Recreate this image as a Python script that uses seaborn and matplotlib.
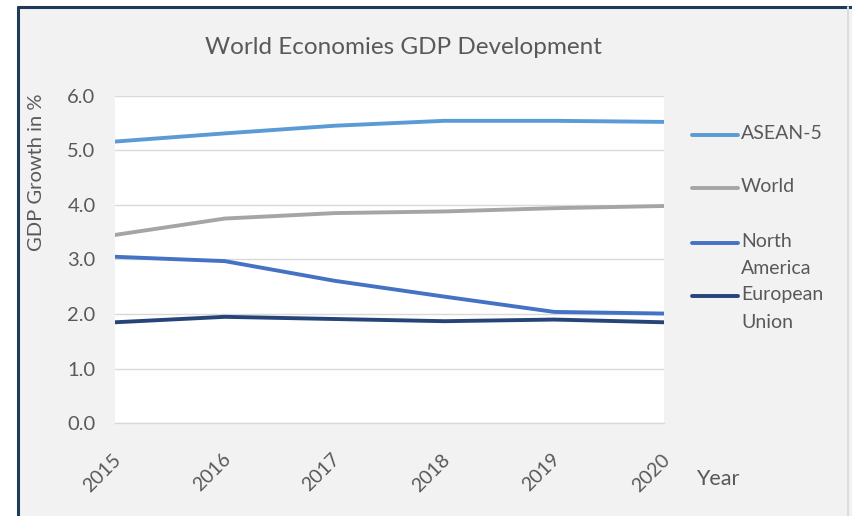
import matplotlib
matplotlib.use("Agg")
import matplotlib.pyplot as plt
from matplotlib.lines import Line2D
from matplotlib.patches import Rectangle
from matplotlib.transforms import ScaledTranslation
import seaborn as sns
import pandas as pd

years = [2015, 2016, 2017, 2018, 2019, 2020]
asean5 = [5.16, 5.31, 5.45, 5.54, 5.54, 5.52]
world = [3.45, 3.75, 3.85, 3.88, 3.94, 3.98]
north_america = [3.05, 2.97, 2.61, 2.32, 2.04, 2.01]
european_union = [1.85, 1.95, 1.91, 1.87, 1.90, 1.85]
series_names = ["ASEAN-5", "World", "North America", "European Union"]
legend_labels = ["ASEAN-5", "World", "North\nAmerica", "European\nUnion"]
colors = ["#5B9BD5", "#A5A5A5", "#4472C4", "#264478"]
yticks = [0.0, 1.0, 2.0, 3.0, 4.0, 5.0, 6.0]

df = pd.DataFrame({
    "Year": years * 4,
    "GDP": asean5 + world + north_america + european_union,
    "Series": sum([[n] * len(years) for n in series_names], []),
})

sns.set_style("white")
plt.rcParams["font.family"] = ["Lato", "DejaVu Sans"]

W, H = 852, 516
fig = plt.figure(figsize=(W / 100, H / 100), dpi=100, facecolor="white")

# chart area background and border (Excel-like)
fig.add_artist(Rectangle((17 / W, 0), 1 - 17 / W, 1 - 7 / H, transform=fig.transFigure,
                         facecolor="#F2F2F2", edgecolor="none", zorder=-10))
fig.add_artist(Line2D([18 / W, 18 / W], [0, 1 - 7 / H], transform=fig.transFigure,
                      color="#1F3B5A", lw=2.2))
fig.add_artist(Line2D([18 / W, 1], [1 - 7 / H, 1 - 7 / H], transform=fig.transFigure,
                      color="#1F3B5A", lw=2.2))
fig.add_artist(Line2D([1 - 4 / W, 1 - 4 / W], [0, 1 - 7 / H], transform=fig.transFigure,
                      color="#DCDCDC", lw=1.5))

left, right, top, bottom = 115, 664, 95.7, 423.3
ax = fig.add_axes([left / W, 1 - bottom / H, (right - left) / W, (bottom - top) / H])
ax.set_facecolor("white")

sns.lineplot(data=df, x="Year", y="GDP", hue="Series", hue_order=series_names,
             palette=colors, linewidth=2.8, ax=ax, legend=False)

ax.set_xlim(2015, 2020)
ax.set_ylim(0, 6)
ax.set_yticks(yticks)
ax.set_yticklabels([f"{v:.1f}" for v in yticks])
ax.set_xticks(years)
ax.set_xticklabels([str(y) for y in years])
ax.grid(axis="y", color="#D9D9D9", linewidth=1)
ax.set_axisbelow(True)
for s in ["top", "right", "left"]:
    ax.spines[s].set_visible(False)
ax.spines["bottom"].set_color("#D9D9D9")
ax.spines["bottom"].set_linewidth(1)
ax.tick_params(axis="y", length=0, pad=14, labelsize=14.5, labelcolor="#595959")
ax.tick_params(axis="x", length=0, pad=24, labelsize=14, labelcolor="#595959")
for lab in ax.get_xticklabels():
    lab.set_rotation(45)
    lab.set_ha("right")
    lab.set_va("center")
    lab.set_rotation_mode("anchor")
    lab.set_transform(lab.get_transform() + ScaledTranslation(3 / 100, 0, fig.dpi_scale_trans))
ax.set_xlabel("")
ax.set_ylabel("")

fig.text(403 / W, 1 - 48 / H, "World Economies GDP Development", ha="center", va="center",
         fontsize=17.5, color="#595959")
fig.text(37 / W, 1 - 172 / H, "GDP Growth in %", rotation=90, ha="center", va="center",
         fontsize=14.5, color="#595959")
fig.text(696 / W, 1 - 479 / H, "Year", ha="left", va="center", fontsize=15.5, color="#595959")

# legend
ys = [135, 188, 243, 296]
for lab, c, y in zip(legend_labels, colors, ys):
    fig.add_artist(Line2D([692 / W, 738 / W], [1 - y / H, 1 - y / H], transform=fig.transFigure,
                          color=c, lw=2.8, solid_capstyle="round"))
    fig.text(741 / W, 1 - (y - 10) / H, lab, ha="left", va="top", fontsize=14,
             color="#595959", linespacing=1.75)

fig.savefig("out.png", dpi=100, facecolor=fig.get_facecolor())
